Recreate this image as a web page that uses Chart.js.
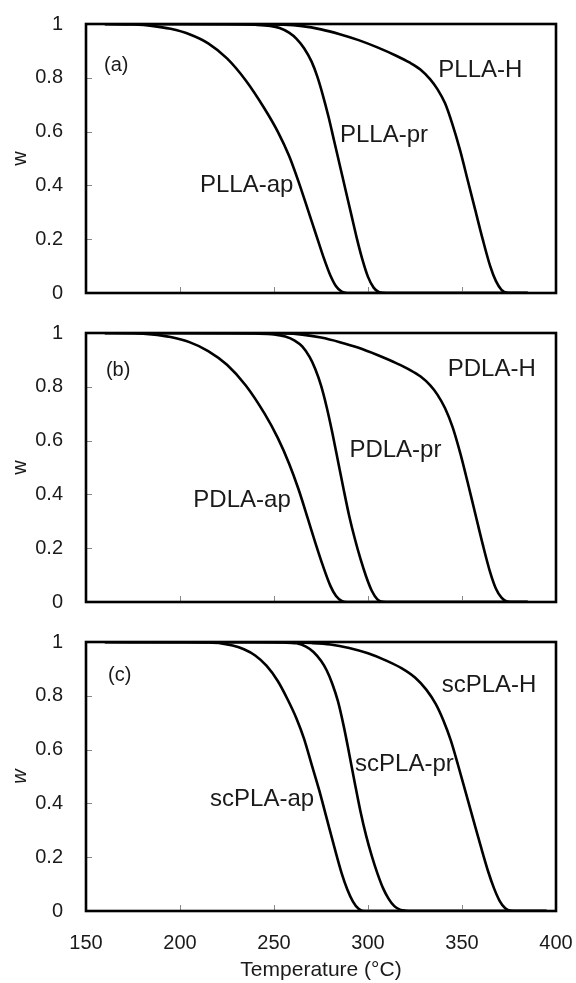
<!DOCTYPE html>
<html>
<head>
<meta charset="utf-8">
<script src="https://cdn.jsdelivr.net/npm/chart.js@4"></script>
<style>
  html, body { margin: 0; padding: 0; background: #fff; }
  #wrap { position: relative; width: 576px; height: 983px; }
  canvas { position: absolute; left: 0; }
</style>
</head>
<body>
<div id="wrap">
  <canvas id="pa" width="576" height="310" style="top:0px"></canvas>
  <canvas id="pb" width="576" height="310" style="top:310px"></canvas>
  <canvas id="pc" width="576" height="363" style="top:620px"></canvas>
</div>
<script>
// weight fraction w vs temperature (°C), read per curve
const pllaApT = [160, 175, 185, 195, 205, 215, 225, 235, 245, 252, 258, 263, 268, 272, 276, 280, 283, 286, 289, 300, 385];
const pllaApW = [1.0, 0.998, 0.993, 0.982, 0.962, 0.928, 0.872, 0.790, 0.685, 0.600, 0.510, 0.415, 0.310, 0.225, 0.140, 0.065, 0.025, 0.005, 0.0, 0.0, 0.0];
const pllaPrT = [160, 220, 240, 248, 253, 258, 262, 266, 270, 273, 276, 279, 282, 285, 288, 291, 294, 297, 300, 303, 306, 310, 385];
const pllaPrW = [1.0, 0.999, 0.997, 0.993, 0.985, 0.968, 0.945, 0.910, 0.860, 0.805, 0.735, 0.655, 0.565, 0.475, 0.385, 0.295, 0.205, 0.125, 0.060, 0.020, 0.003, 0.0, 0.0];
const pllaHT = [160, 230, 255, 265, 275, 285, 295, 305, 315, 322, 328, 333, 337, 341, 345, 349, 353, 357, 361, 365, 368, 371, 374, 378, 385];
const pllaHW = [1.0, 0.999, 0.997, 0.992, 0.980, 0.962, 0.940, 0.913, 0.882, 0.857, 0.830, 0.795, 0.757, 0.705, 0.625, 0.530, 0.420, 0.310, 0.200, 0.100, 0.045, 0.012, 0.001, 0.0, 0.0];

const pdlaApT = [160, 175, 185, 195, 205, 215, 225, 235, 245, 252, 258, 263, 268, 272, 276, 280, 283, 286, 289, 300, 385];
const pdlaApW = [1.0, 0.999, 0.995, 0.985, 0.966, 0.933, 0.882, 0.805, 0.700, 0.610, 0.515, 0.420, 0.310, 0.220, 0.135, 0.060, 0.022, 0.004, 0.0, 0.0, 0.0];
const pdlaPrT = [160, 220, 240, 250, 256, 261, 265, 269, 272, 275, 278, 281, 284, 287, 290, 293, 296, 299, 302, 305, 308, 312, 385];
const pdlaPrW = [1.0, 0.999, 0.998, 0.995, 0.987, 0.972, 0.950, 0.910, 0.865, 0.805, 0.725, 0.630, 0.525, 0.420, 0.320, 0.235, 0.160, 0.095, 0.042, 0.010, 0.001, 0.0, 0.0];
const pdlaHT = [160, 230, 255, 265, 275, 285, 295, 305, 315, 322, 328, 333, 337, 341, 345, 349, 353, 357, 361, 365, 368, 371, 374, 378, 385];
const pdlaHW = [1.0, 0.999, 0.998, 0.994, 0.983, 0.966, 0.945, 0.918, 0.888, 0.864, 0.838, 0.806, 0.770, 0.720, 0.650, 0.555, 0.445, 0.330, 0.215, 0.110, 0.050, 0.016, 0.002, 0.0, 0.0];

const scApT = [160, 200, 215, 222, 228, 234, 240, 246, 252, 257, 262, 266, 270, 274, 278, 282, 286, 289, 292, 295, 298, 305, 395];
const scApW = [1.0, 0.999, 0.998, 0.995, 0.987, 0.973, 0.950, 0.912, 0.855, 0.790, 0.715, 0.640, 0.545, 0.450, 0.345, 0.240, 0.140, 0.080, 0.035, 0.008, 0.0, 0.0, 0.0];
const scPrT = [160, 240, 255, 262, 267, 271, 275, 278, 281, 284, 287, 290, 293, 296, 299, 302, 305, 308, 311, 314, 317, 320, 324, 395];
const scPrW = [1.0, 0.999, 0.998, 0.995, 0.983, 0.963, 0.930, 0.895, 0.845, 0.780, 0.690, 0.585, 0.475, 0.370, 0.280, 0.205, 0.140, 0.085, 0.045, 0.018, 0.005, 0.001, 0.0, 0.0];
const scHT = [160, 250, 270, 280, 290, 300, 310, 318, 325, 331, 336, 340, 344, 348, 352, 356, 360, 364, 367, 370, 373, 376, 380, 395];
const scHW = [1.0, 0.999, 0.996, 0.991, 0.978, 0.958, 0.930, 0.902, 0.868, 0.823, 0.770, 0.710, 0.635, 0.540, 0.440, 0.340, 0.240, 0.145, 0.085, 0.038, 0.010, 0.001, 0.0, 0.0];

const xTicks = [150, 200, 250, 300, 350, 400];
const yTicks = [0, 0.2, 0.4, 0.6, 0.8, 1];

const FONT = "'Liberation Sans', Arial, sans-serif";
const INK = '#1a1a1a';

function pts(T, W) {
  return T.map((t, i) => ({ x: t, y: W[i] }));
}

function curve(T, W) {
  return {
    data: pts(T, W),
    borderColor: '#000',
    borderWidth: 2.6,
    pointRadius: 0,
    cubicInterpolationMode: 'monotone',
    fill: false
  };
}

// frame around the plot area, inward tick marks and the in-plot text labels
const framePlugin = {
  id: 'frame',
  afterDatasetsDraw(chart, args, opts) {
    const { ctx, chartArea: a, scales: { x, y } } = chart;
    ctx.save();
    ctx.strokeStyle = '#888';
    ctx.lineWidth = 1;
    ctx.beginPath();
    xTicks.slice(1, -1).forEach(v => {
      const px = Math.round(x.getPixelForValue(v)) + 0.5;
      ctx.moveTo(px, a.bottom);
      ctx.lineTo(px, a.bottom - 6);
    });
    yTicks.slice(1, -1).forEach(v => {
      const py = Math.round(y.getPixelForValue(v)) + 0.5;
      ctx.moveTo(a.left, py);
      ctx.lineTo(a.left + 6, py);
    });
    ctx.stroke();

    ctx.strokeStyle = '#000';
    ctx.lineWidth = 2.6;
    ctx.strokeRect(a.left, a.top, a.right - a.left, a.bottom - a.top);

    ctx.fillStyle = INK;
    ctx.textBaseline = 'middle';
    ctx.textAlign = 'left';
    (opts.notes || []).forEach(n => {
      ctx.font = n.size + 'px ' + FONT;
      ctx.fillText(n.text, x.getPixelForValue(n.t), y.getPixelForValue(n.w));
    });
    ctx.restore();
  }
};

function makePanel(id, datasets, notes, cfg) {
  return new Chart(document.getElementById(id), {
    type: 'line',
    data: { datasets: datasets },
    plugins: [framePlugin],
    options: {
      responsive: false,
      animation: false,
      events: [],
      layout: { autoPadding: false, padding: { left: 0, right: 20, top: cfg.padTop, bottom: 0 } },
      plugins: {
        legend: { display: false },
        tooltip: { enabled: false },
        frame: { notes: notes }
      },
      scales: {
        x: {
          type: 'linear',
          min: 150,
          max: 400,
          afterBuildTicks: s => { s.ticks = xTicks.map(v => ({ value: v })); },
          ticks: {
            display: cfg.showX,
            color: INK,
            font: { family: FONT, size: 20 },
            padding: 12,
            maxRotation: 0
          },
          grid: { display: false },
          border: { display: false },
          title: {
            display: cfg.showX,
            text: 'Temperature (°C)',
            color: INK,
            font: { family: FONT, size: 21 },
            padding: { top: 0, bottom: 0 }
          },
          afterFit: s => {
            s.height = cfg.xHeight;
            s.paddingLeft = 0;
            s.paddingRight = 0;
          }
        },
        y: {
          type: 'linear',
          min: 0,
          max: 1,
          afterBuildTicks: s => { s.ticks = yTicks.map(v => ({ value: v })); },
          ticks: {
            color: INK,
            font: { family: FONT, size: 20 },
            padding: 15,
            callback: v => String(Math.round(v * 10) / 10)
          },
          grid: { display: false },
          border: { display: false },
          title: {
            display: true,
            text: 'w',
            color: INK,
            font: { family: FONT, size: 20, style: cfg.italicW ? 'italic' : 'normal' },
            padding: { top: 8, bottom: 0 }
          },
          afterFit: s => {
            s.width = 86;
            s.paddingTop = 0;
            s.paddingBottom = 0;
          }
        }
      }
    }
  });
}

makePanel('pa',
  [curve(pllaApT, pllaApW), curve(pllaPrT, pllaPrW), curve(pllaHT, pllaHW)],
  [
    { text: '(a)', t: 159.6, w: 0.845, size: 20 },
    { text: 'PLLA-H', t: 337.4, w: 0.829, size: 24 },
    { text: 'PLLA-pr', t: 285.1, w: 0.585, size: 24 },
    { text: 'PLLA-ap', t: 210.6, w: 0.401, size: 24 }
  ],
  { padTop: 24, xHeight: 17, showX: false, italicW: false });

makePanel('pb',
  [curve(pdlaApT, pdlaApW), curve(pdlaPrT, pdlaPrW), curve(pdlaHT, pdlaHW)],
  [
    { text: '(b)', t: 160.6, w: 0.862, size: 20 },
    { text: 'PDLA-H', t: 342.4, w: 0.864, size: 24 },
    { text: 'PDLA-pr', t: 290.1, w: 0.564, size: 24 },
    { text: 'PDLA-ap', t: 207.1, w: 0.378, size: 24 }
  ],
  { padTop: 23, xHeight: 18, showX: false, italicW: false });

makePanel('pc',
  [curve(scApT, scApW), curve(scPrT, scPrW), curve(scHT, scHW)],
  [
    { text: '(c)', t: 161.7, w: 0.877, size: 20 },
    { text: 'scPLA-H', t: 339.2, w: 0.838, size: 24 },
    { text: 'scPLA-pr', t: 293.1, w: 0.544, size: 24 },
    { text: 'scPLA-ap', t: 216, w: 0.414, size: 24 }
  ],
  { padTop: 22, xHeight: 72, showX: true, italicW: true });
</script>
</body>
</html>
